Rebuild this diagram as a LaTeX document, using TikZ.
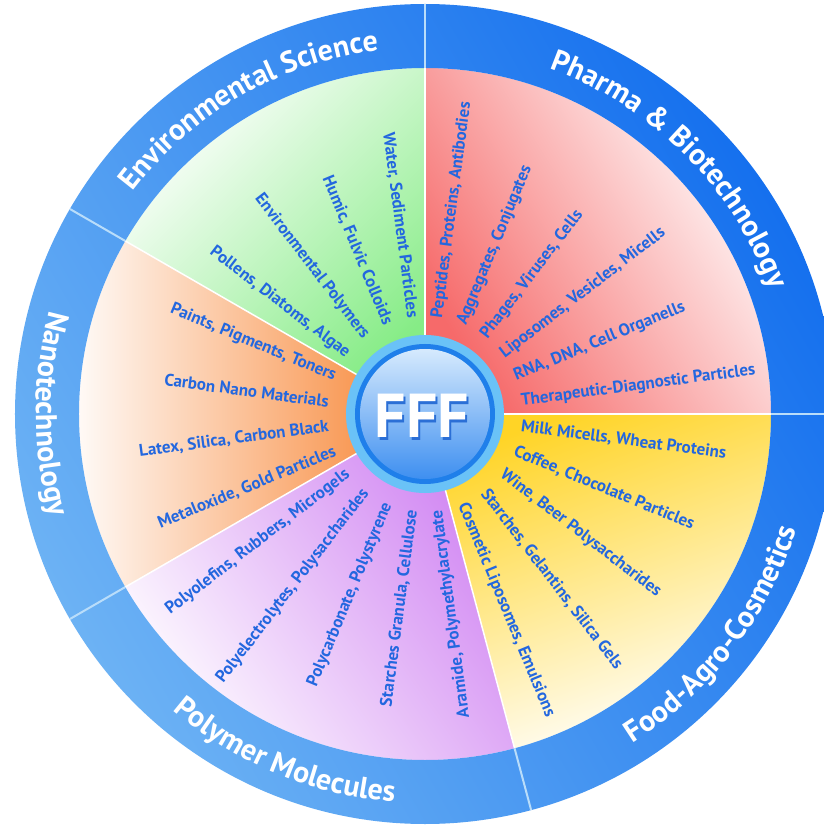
\documentclass[tikz,border=0pt]{standalone}
\usepackage{fontspec}
\setmainfont{PT Sans}
\usepackage{tikz}
\usetikzlibrary{decorations.text}
\definecolor{ringdark}{HTML}{1570EE}
\definecolor{ringlight}{HTML}{6CB2F4}
\definecolor{ringline}{HTML}{B9DDFA}
\definecolor{labelblue}{HTML}{2367DF}
\definecolor{secgreen}{HTML}{86EC86}
\definecolor{secpink}{HTML}{F66A6A}
\definecolor{secyellow}{HTML}{FFD426}
\definecolor{secpurple}{HTML}{D083F2}
\definecolor{secorange}{HTML}{F7822F}
\definecolor{hubouter}{HTML}{6AC2F7}
\definecolor{hubring}{HTML}{1F7FEA}
\definecolor{hubtop}{HTML}{D6EAFD}
\definecolor{hubbottom}{HTML}{3E8FF0}
\definecolor{fffshadow}{HTML}{2B6FD6}
\newcommand{\titlefont}{\bfseries\fontsize{30}{30}\selectfont}

\begin{document}
\begin{tikzpicture}[x=1pt,y=1pt,
  lbl/.style={font=\bfseries\fontsize{17}{17}\selectfont,text=labelblue,inner sep=0pt},
  sep/.style={white,line width=1.5pt},
  ringtitle/.style={decorate,decoration={text along path,text align=center,text color=white,text={|\titlefont|#1}}}]
  \useasboundingbox (-425,-411) rectangle (399,414);
  \clip (-425,-411) rectangle (399,414);
  \fill[white] (-425,-411) rectangle (399,414);
  % coloured sectors
  \foreach \sa/\ea/\col/\ang in {0/90/secpink/-58,-75/0/secyellow/-160,-150/-75/secpurple/125,150/210/secorange/90,90/150/secgreen/45}{
    \shade[top color=white,middle color=\col!60!white,bottom color=\col,shading angle=\ang] (0,0) -- (\sa:346) arc[start angle=\sa,end angle=\ea,radius=346] -- cycle;
  }
  % outer ring
  \shade[even odd rule,top color=ringdark,bottom color=ringlight,shading angle=-60] (0,0) circle[radius=410] (0,0) circle[radius=346];
  \foreach \b in {0,90,150,210,285}{
    \draw[sep] (0,0) -- (\b:346);
    \draw[ringline,line width=2pt] (\b:346) -- (\b:410);
  }
  \path[ringtitle={Environmental Science}] (150:367) arc[start angle=150,end angle=90,radius=367];
  \path[ringtitle={Pharma {\&} Biotechnology}] (90:367) arc[start angle=90,end angle=0,radius=367];
  \path[ringtitle={Food-Agro-Cosmetics}] (-75:389) arc[start angle=-75,end angle=0,radius=389];
  \path[ringtitle={Polymer Molecules}] (210:389) arc[start angle=210,end angle=285,radius=389];
  \path[ringtitle={Nanotechnology}] (150:389) arc[start angle=150,end angle=210,radius=389];
  % labels reading outwards
  \foreach \a/\t [count=\i] in {82.5/{Peptides, Proteins, Antibodies},67.5/{Aggregates, Conjugates},52.5/{Phages, Viruses, Cells},37.5/{Liposomes, Vesicles, Micells},22.5/{RNA, DNA, Cell Organells},7.5/{Therapeutic-Diagnostic Particles},-7.5/{Milk Micells, Wheat Proteins},-22.5/{Coffee, Chocolate Particles},-37.5/{Wine, Beer Polysaccharides},-52.5/{Starches, Gelantins, Silica Gels},-67.5/{Cosmetic Liposomes, Emulsions}}
    \node[lbl,anchor=west,rotate=\a] (appout-\i) at (\a:97) {\t};
  % labels reading inwards
  \foreach \a/\t [count=\i] in {97.5/{Water, Sediment Particles},112.5/{Humic, Fulvic Colloids},127.5/{Environmental Polymers},142.5/{Pollens, Diatoms, Algae},157.5/{Paints, Pigments, Toners},172.5/{Carbon Nano Materials},187.5/{Latex, Silica, Carbon Black},202.5/{Metaloxide, Gold Particles},217.5/{Polyolefins, Rubbers, Microgels},232.5/{Polyelectrolytes, Polysaccharides},247.5/{Polycarbonate, Polystyrene},262.5/{Starches Granula, Cellulose},277.5/{Aramide, Polymethylacrylate}}
    \node[lbl,anchor=east,rotate=\a+180] (appin-\i) at (\a:97) {\t};
  % hub
  \fill[hubouter] (0,0) circle[radius=79];
  \fill[hubring] (0,0) circle[radius=70];
  \shade[top color=hubtop,bottom color=hubbottom] (0,0) circle[radius=65];
  \node[font=\bfseries\fontsize{62}{62}\selectfont,text=fffshadow] (hubshadow) at (-1,-5) {FFF};
  \node[font=\bfseries\fontsize{62}{62}\selectfont,text=white] (hub) at (-3,-2) {FFF};
\end{tikzpicture}
\end{document}
